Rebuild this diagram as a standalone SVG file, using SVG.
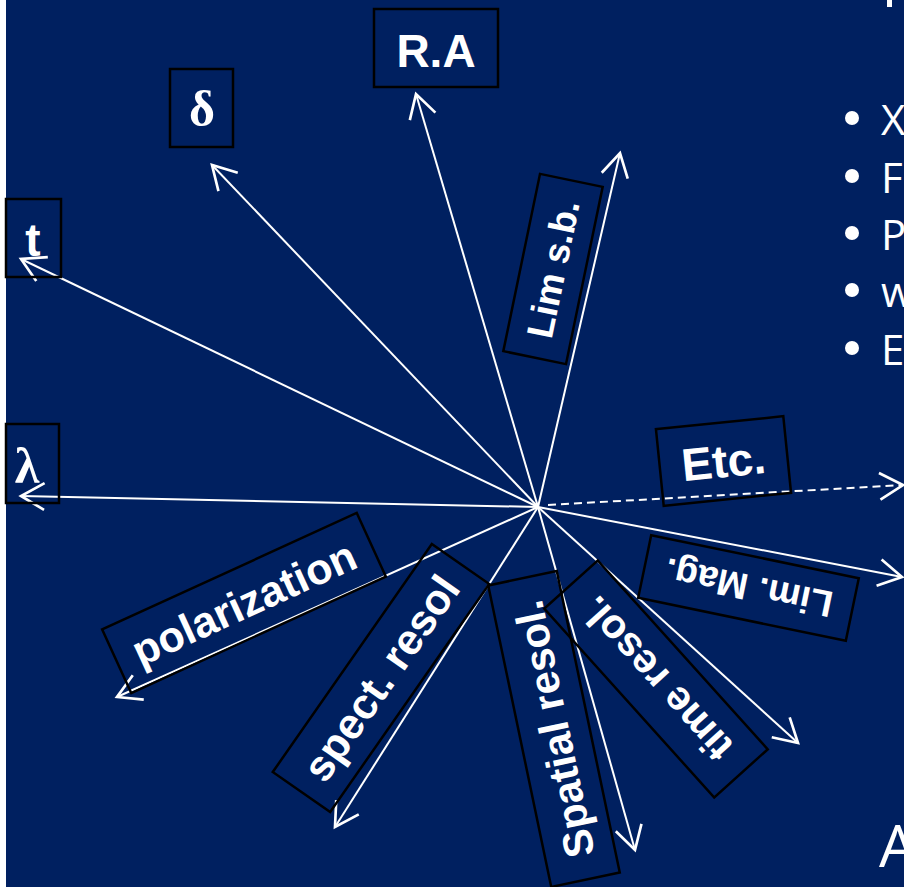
<svg xmlns="http://www.w3.org/2000/svg" width="904" height="887" viewBox="0 0 904 887">
<style>
.ln{stroke:#fff;stroke-width:2;fill:none}
.bx{fill:none;stroke:#000;stroke-width:2.5}
.lb{fill:#fff;font-family:"Liberation Sans",Arial,sans-serif;font-weight:bold;text-anchor:middle}
.gk{fill:#fff;font-family:"Liberation Serif","Times New Roman",serif;font-weight:bold;text-anchor:middle}
.bl{fill:#fff;font-family:"Open Sans","Liberation Sans",sans-serif}
</style>
<defs>
<marker id="ah" markerUnits="userSpaceOnUse" markerWidth="40" markerHeight="40" viewBox="-25 -15 30 30" refX="0" refY="0" orient="auto" overflow="visible">
<path d="M-17.5,-10 L0,0 L-17.5,10" fill="none" stroke="#fff" stroke-width="2"/>
</marker>
</defs>
<rect x="0" y="0" width="904" height="887" fill="#002060"/>
<rect x="0" y="0" width="6" height="887" fill="#ffffff"/>
<rect x="887" y="0" width="5" height="7" fill="#ffffff"/>

<g id="bullets">
<circle cx="852" cy="118" r="7" fill="#fff"/>
<circle cx="852" cy="176" r="7" fill="#fff"/>
<circle cx="852" cy="233" r="7" fill="#fff"/>
<circle cx="852" cy="290" r="7" fill="#fff"/>
<circle cx="852" cy="348" r="7" fill="#fff"/>
<text class="bl" x="881" y="135" font-size="42">X</text>
<text class="bl" x="881" y="193" font-size="42">F</text>
<text class="bl" x="881" y="250" font-size="42">P</text>
<text class="bl" x="881" y="307" font-size="42">w</text>
<text class="bl" x="881" y="365" font-size="42">E</text>
<text class="bl" x="879" y="867" font-size="59">A</text>
</g>

<g id="connectors">
<line class="ln" x1="538" y1="507" x2="416" y2="94" marker-end="url(#ah)"/>
<line class="ln" x1="538" y1="507" x2="620" y2="153" marker-end="url(#ah)"/>
<line class="ln" x1="538" y1="507" x2="212" y2="165" marker-end="url(#ah)"/>
<line class="ln" x1="538" y1="507" x2="21" y2="259" marker-end="url(#ah)"/>
<line class="ln" x1="538" y1="507" x2="21" y2="496" marker-end="url(#ah)"/>
<line class="ln" x1="538" y1="507" x2="117" y2="697" marker-end="url(#ah)"/>
<line class="ln" x1="538" y1="507" x2="335" y2="827" marker-end="url(#ah)"/>
<line class="ln" x1="538" y1="507" x2="635" y2="850" marker-end="url(#ah)"/>
<line class="ln" x1="538" y1="507" x2="798" y2="743" marker-end="url(#ah)"/>
<line class="ln" x1="538" y1="507" x2="902" y2="577" marker-end="url(#ah)"/>
<line class="ln" x1="548" y1="505" x2="903" y2="485" stroke-dasharray="8 5" marker-end="url(#ah)"/>
</g>

<g id="ra"><rect class="bx" x="374" y="9" width="124" height="78"/><text class="lb" x="436" y="67" font-size="46">R.A</text></g>
<g id="delta"><rect class="bx" x="170" y="69" width="63" height="78"/><text class="gk" x="202" y="126" font-size="50">δ</text></g>
<g id="t"><rect class="bx" x="6" y="199" width="55" height="78"/><text class="lb" x="33" y="256" font-size="46">t</text></g>
<g id="lambda"><rect class="bx" x="6" y="424" width="53" height="79"/><text class="gk" x="27" y="483" font-size="50">λ</text></g>

<g id="limsb" transform="translate(553,269) rotate(-78.3)"><rect class="bx" x="-90.5" y="-32" width="181" height="64"/><text class="lb" x="0" y="0" dy="0.35em" font-size="37">Lim s.b.</text></g>
<g id="etc" transform="translate(723.5,461) rotate(-5.8)"><rect class="bx" x="-64" y="-38.5" width="128" height="77"/><text class="lb" x="0" y="0" dy="0.35em" font-size="46">Etc.</text></g>
<g id="limmag" transform="translate(748.5,588) rotate(191.7)"><rect class="bx" x="-106" y="-32" width="212" height="64"/><text class="lb" x="0" y="0" dy="0.35em" font-size="37">Lim. Mag.</text></g>
<g id="polarization" transform="translate(244,603) rotate(-24.6)"><rect class="bx" x="-140" y="-35" width="280" height="70"/><text class="lb" x="0" y="0" dy="0.35em" font-size="43">polarization</text></g>
<g id="spect" transform="translate(381,678) rotate(-55.1)"><rect class="bx" x="-139" y="-35" width="278" height="70"/><text class="lb" x="0" y="0" dy="0.35em" font-size="43">spect. resol</text></g>
<g id="spatial" transform="translate(554,729) rotate(-101.8)"><rect class="bx" x="-154" y="-35" width="308" height="70"/><text class="lb" x="0" y="0" dy="0.35em" font-size="42">Spatial resol.</text></g>
<g id="time" transform="translate(656,679) rotate(228)"><rect class="bx" x="-127" y="-36" width="254" height="72"/><text class="lb" x="0" y="0" dy="0.35em" font-size="41">time resol.</text></g>
</svg>
